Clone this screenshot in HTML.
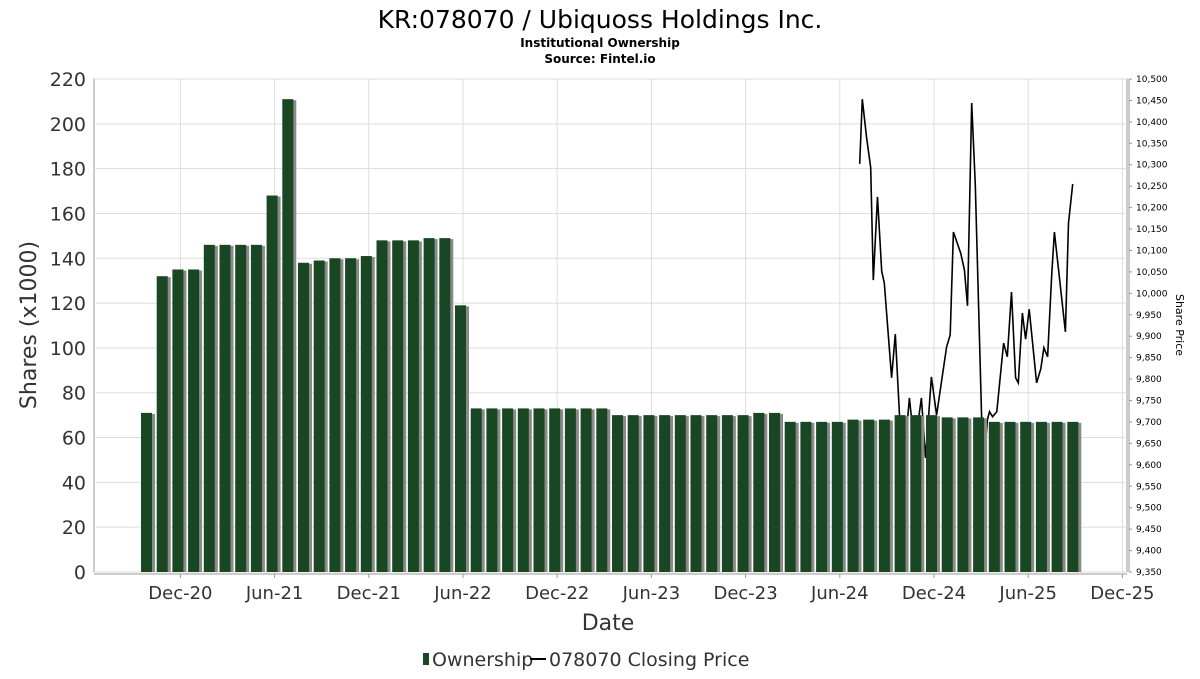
<!DOCTYPE html>
<html><head><meta charset="utf-8"><style>
body{margin:0;background:#fff;font-family:"DejaVu Sans","Liberation Sans",sans-serif}
svg text{font-family:"DejaVu Sans","Liberation Sans",sans-serif}
</style></head><body>
<svg id="c" width="1200" height="675" viewBox="0 0 1200 675" xmlns="http://www.w3.org/2000/svg">
<text x="600" y="28" text-anchor="middle" font-size="25" fill="#000">KR:078070 / Ubiquoss Holdings Inc.</text>
<text x="600" y="47" text-anchor="middle" font-size="12" font-weight="bold">Institutional Ownership</text>
<text x="600" y="63" text-anchor="middle" font-size="12" font-weight="bold">Source: Fintel.io</text>
<g id="grid"></g><g id="line"></g><g id="bars"></g><g id="axes"></g>
<text x="608" y="630" text-anchor="middle" font-size="22" fill="#333">Date</text>
<text transform="translate(36,325) rotate(-90)" text-anchor="middle" font-size="22" fill="#333">Shares (x1000)</text>
<text transform="translate(1176,325) rotate(90)" text-anchor="middle" font-size="11" fill="#000">Share Price</text>
<g>
<rect x="423" y="653" width="6" height="12" fill="#1a4723"/>
<text x="432" y="666" font-size="19" fill="#333">Ownership</text>
<line x1="530" y1="659" x2="546" y2="659" stroke="#000" stroke-width="2"/>
<text x="549" y="666" font-size="19" fill="#333">078070 Closing Price</text>
</g>
</svg>
<script>
const shares=[71,132,135,135,146,146,146,146,168,211,138,139,140,140,141,148,148,148,149,149,119,73,73,73,73,73,73,73,73,73,70,70,70,70,70,70,70,70,70,71,71,67,67,67,67,68,68,68,70,70,70,69,69,69,67,67,67,67,67,67];
const startYear=2020, startMonth=10;
const xTickLabels=["Dec-20","Jun-21","Dec-21","Jun-22","Dec-22","Jun-23","Dec-23","Jun-24","Dec-24","Jun-25","Dec-25"];
const xTickMonths=[2,8,14,20,26,32,38,44,50,56,62];
const yTicks=[0,20,40,60,80,100,120,140,160,180,200,220];
const priceDates=["2024-07-09","2024-07-14","2024-07-22","2024-07-30","2024-08-05","2024-08-13","2024-08-21","2024-08-26","2024-09-10","2024-09-17","2024-09-25","2024-10-05","2024-10-14","2024-10-24","2024-11-07","2024-11-15","2024-11-26","2024-12-06","2024-12-25","2025-01-02","2025-01-08","2025-01-22","2025-01-29","2025-02-05","2025-02-13","2025-02-20","2025-03-02","2025-03-09","2025-03-13","2025-03-17","2025-03-23","2025-04-01","2025-04-14","2025-04-21","2025-04-29","2025-05-07","2025-05-12","2025-05-20","2025-05-26","2025-06-03","2025-06-17","2025-06-25","2025-07-01","2025-07-08","2025-07-16","2025-07-21","2025-08-12","2025-08-18","2025-08-26"];
const prices=[10302,10453,10365,10293,10031,10225,10052,10024,9803,9905,9716,9630,9756,9640,9756,9616,9805,9716,9875,9903,10143,10094,10055,9971,10444,10253,9712,9640,9705,9724,9712,9724,9884,9852,10003,9803,9791,9954,9893,9963,9791,9824,9873,9852,10047,10143,9910,10164,10255];
const rTicks=[];for(let v=9350;v<=10500;v+=50)rTicks.push(v);

const NS="http://www.w3.org/2000/svg";
const L=94,R=1127,T=79,B=572;
const xM=m=>149+m*15.7;
const yS=v=>B-v/220*(B-T);
const yP=v=>B-(v-9350)/1150*(B-T);
function el(tag,attrs,parent){const e=document.createElementNS(NS,tag);for(const k in attrs)e.setAttribute(k,attrs[k]);parent.appendChild(e);return e;}
const grid=document.getElementById('grid'),axes=document.getElementById('axes'),bars=document.getElementById('bars'),lineG=document.getElementById('line');
el('rect',{x:L,y:T,width:R-L,height:B-T,fill:'#fff',stroke:'#999'},grid);
yTicks.forEach(v=>{
 const l=el('line',{x1:L,x2:R,y1:yS(v),y2:yS(v),stroke:'#ddd'},grid);
 
 
 const t=el('text',{x:L-8,y:yS(v)+7,'text-anchor':'end','font-size':19,fill:'#333'},axes);
 t.textContent=v;
 
 
});
xTickMonths.forEach((m,i)=>{
 const x=xM(m);
 const l=el('line',{x1:x,x2:x,y1:T,y2:B,stroke:'#ddd'},grid);
 
 
 el('line',{x1:x,x2:x,y1:B+2,y2:B+6,stroke:'#999'},axes);
 const t=el('text',{x:x,y:599,'text-anchor':'middle','font-size':18,fill:'#333'},axes);
 t.textContent=xTickLabels[i];
 
 
});
el('line',{x1:L,x2:R,y1:B+2,y2:B+2,stroke:'#999'},axes);
el('line',{x1:R+2,x2:R+2,y1:T,y2:B,stroke:'#999'},axes);
rTicks.forEach(v=>{
 el('line',{x1:R+2,x2:R+5,y1:yP(v),y2:yP(v),stroke:'#999'},axes);
 const t=el('text',{x:R+9,y:yP(v)+3,'font-size':9,fill:'#000'},axes);
 t.textContent=v.toLocaleString('en-US');
 
 
});
function dateToM(s){const [y,m,d]=s.split('-').map(Number);return (y-startYear)*12+(m-startMonth)+(d-1)/30;}
const pts=priceDates.map((d,i)=>xM(dateToM(d)).toFixed(1)+','+yP(prices[i]).toFixed(1)).join(' ');
const pl=el('polyline',{points:pts,fill:'none',stroke:'#000','stroke-width':1.6},lineG);


shares.forEach((v,i)=>{
 const x=xM(i);
 const s=el('rect',{x:x-5,y:yS(v)+1,width:11,height:B-yS(v)-1,fill:'#8a8a8a'},bars);
 
 
 const r=el('rect',{x:x-8,y:yS(v),width:11,height:B-yS(v),fill:'#1a4723'},bars);
 
 
});
</script>
</body></html>
